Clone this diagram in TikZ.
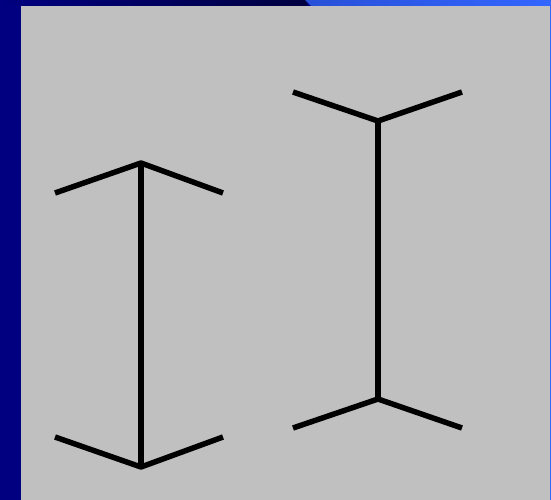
\documentclass[tikz,border=0pt]{standalone}
\usetikzlibrary{positioning}
\definecolor{navy}{RGB}{0,0,128}
\definecolor{darknavy}{RGB}{0,0,64}
\definecolor{brightblue}{RGB}{51,102,255}
\definecolor{midblue}{RGB}{40,80,216}
\definecolor{panelgrey}{RGB}{192,192,192}
\tikzstyle{fin}=[line width=5.5pt,line join=round,line cap=butt,black]
\tikzstyle{shaft}=[line width=5.5pt,black]
\begin{document}
\begin{tikzpicture}[x=1pt,y=-1pt]
\useasboundingbox (0,0) rectangle (551,500);
% background frame
\fill[navy] (0,0) rectangle (551,500);
\shade[left color=navy,right color=darknavy] (0,0) rectangle (307,6);
\shade[left color=midblue,right color=brightblue] (305,0) -- (551,0) -- (551,6) -- (311,6) -- cycle;
\fill[brightblue] (549,0) rectangle (551,500);
\fill[panelgrey] (21,6) rectangle (549.5,500);
% left figure (outward fins)
\coordinate (lt) at (141,163);
\coordinate (lb) at (141,467);
\draw[shaft] (lt) -- (lb);
\draw[fin] (55,193) -- (lt) -- (223,193);
\draw[fin] (55,437) -- (lb) -- (223,437);
% right figure (inward fins)
\coordinate (rt) at (378,121);
\coordinate (rb) at (378,399);
\draw[shaft] (rt) -- (rb);
\draw[fin] (293,92) -- (rt) -- (462,92);
\draw[fin] (293,428) -- (rb) -- (462,428);
\end{tikzpicture}
\end{document}
